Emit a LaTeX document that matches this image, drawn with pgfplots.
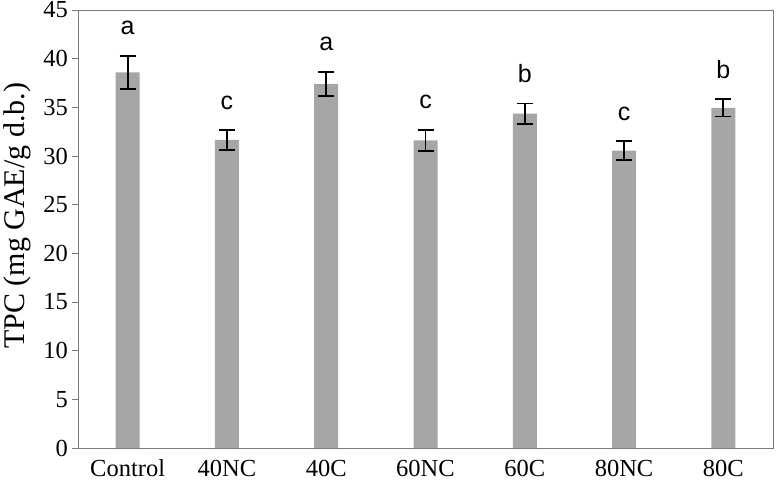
\documentclass[border=0pt]{standalone}
\usepackage{fontspec}
\setmainfont{Liberation Serif}
\setsansfont{Liberation Sans}
\usepackage{pgfplots}
\usepackage{pgfplotstable}
\pgfplotsset{compat=1.18}
\definecolor{bargray}{HTML}{A6A6A6}
\definecolor{axgray}{HTML}{7A7A7A}
\pgfplotstableread{
x y err lab
0 38.6 1.7 a
1 31.65 1.0 c
2 37.4 1.25 a
3 31.6 1.1 c
4 34.35 1.05 b
5 30.55 0.95 c
6 34.95 0.9 b
}\data
\begin{document}
\begin{tikzpicture}
\begin{axis}[
  scale only axis, width=695pt, height=438pt,
  xmin=-0.5, xmax=6.5, ymin=0, ymax=45,
  ytick={0,5,...,45},
  xtick={0,...,6},
  xticklabels={Control,40NC,40C,60NC,60C,80NC,80C},
  x tick style={draw=none},
  y tick style={axgray, line width=0.8pt},
  major tick length=6pt, tick align=outside,
  ytick pos=left,
  axis line style={axgray, line width=0.8pt},
  ticklabel style={font=\fontsize{24.5}{26}\selectfont},
  xticklabel style={anchor=base, inner sep=0pt, yshift=-22pt},
  yticklabel style={inner sep=0pt, xshift=-4pt},
  /pgf/number format/assume math mode=true,
  ylabel={TPC (mg GAE/g d.b.)},
  ylabel style={font=\fontsize{30}{32}\selectfont, inner sep=0pt, at={(axis description cs:-0.0763,0.53)}, anchor=base},
]
\addplot[ybar, bar width=24pt, fill=bargray, draw=none,
  error bars/.cd, y dir=both, y explicit,
  error bar style={black, line width=1.8pt},
  error mark options={black, line width=1.8pt, mark size=8pt, rotate=90}]
  table[x=x, y=y, y error=err]{\data};
\addplot[draw=none, mark=none, nodes near coords, point meta=explicit symbolic,
  nodes near coords style={font=\sffamily\fontsize{25}{27}\selectfont, anchor=base, yshift=21pt, black}]
  table[x=x, y expr=\thisrow{y}+\thisrow{err}, meta=lab]{\data};
\end{axis}
\pgfresetboundingbox
\path[use as bounding box] ([shift={(-78pt,-34pt)}]current axis.south west) rectangle ([shift={(4pt,10pt)}]current axis.north east);
\end{tikzpicture}
\end{document}
